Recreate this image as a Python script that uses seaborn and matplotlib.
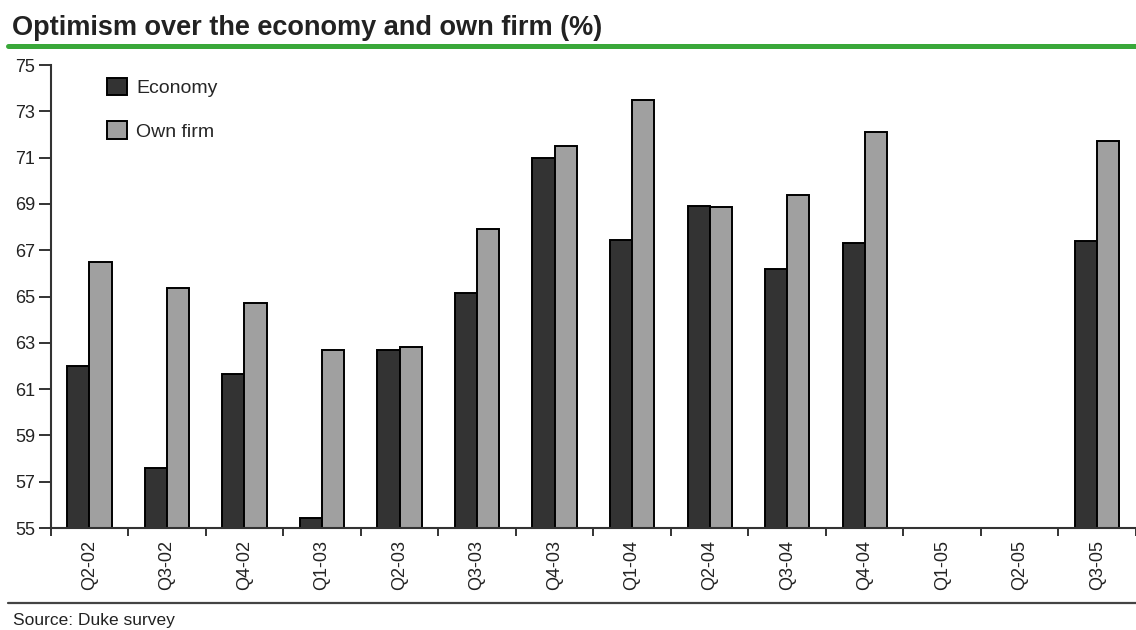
import numpy as np
import pandas as pd
import matplotlib
matplotlib.use("Agg")
import matplotlib.pyplot as plt
from matplotlib.patches import Patch
from matplotlib.lines import Line2D
import seaborn as sns

# Survey quarters and optimism readings (%); Q1-05 and Q2-05 have no data
quarters = ["Q2-02", "Q3-02", "Q4-02", "Q1-03", "Q2-03", "Q3-03", "Q4-03",
            "Q1-04", "Q2-04", "Q3-04", "Q4-04", "Q1-05", "Q2-05", "Q3-05"]
economy = [62.0, 57.6, 61.65, 55.45, 62.7, 65.15, 71.0,
           67.45, 68.9, 66.2, 67.3, np.nan, np.nan, 67.4]
own_firm = [66.5, 65.35, 64.7, 62.7, 62.8, 67.9, 71.5,
            73.5, 68.85, 69.4, 72.1, np.nan, np.nan, 71.7]
series_names = ["Economy", "Own firm"]
y_ticks = list(range(55, 76, 2))

title_text = "Optimism over the economy and own firm (%)"
source_text = "Source: Duke survey"

colors = {"Economy": "#333333", "Own firm": "#a0a0a0"}

df = pd.DataFrame({
    "quarter": quarters * 2,
    "value": economy + own_firm,
    "series": [series_names[0]] * len(quarters) + [series_names[1]] * len(quarters),
})

sns.set_theme(style="white")
plt.rcParams["font.family"] = ["Liberation Sans", "DejaVu Sans"]

fig = plt.figure(figsize=(11.36, 6.30), dpi=100)
ax = fig.add_axes([0.0446, 0.1619, 0.9554, 0.7349])

sns.barplot(data=df, x="quarter", y="value", hue="series", order=quarters,
            hue_order=series_names, palette=colors, width=0.57, gap=0,
            edgecolor="black", linewidth=1.4, saturation=1, errorbar=None,
            ax=ax, legend=False)

ax.set_xlim(-0.5, len(quarters) - 0.5)
ax.set_ylim(55, 75)
ax.set_yticks(y_ticks)
ax.set_yticklabels([str(t) for t in y_ticks])
ax.set_xlabel("")
ax.set_ylabel("")

for side in ["top", "right"]:
    ax.spines[side].set_visible(False)
for side in ["left", "bottom"]:
    ax.spines[side].set_color("#333333")
    ax.spines[side].set_linewidth(1.5)

ax.tick_params(axis="y", direction="out", length=8.5, width=1.4, color="#333333",
               labelsize=13, labelcolor="#222222", pad=2.5, left=True)
# category labels centred, tick marks drawn between categories
ax.tick_params(axis="x", which="major", length=0, pad=8.5, labelsize=13,
               labelcolor="#222222", labelrotation=90)
ax.set_xticks(np.arange(-0.5, len(quarters), 1.0), minor=True)
ax.tick_params(axis="x", which="minor", direction="out", length=6, width=1.4,
               color="#333333", bottom=True)

handles = [Patch(facecolor=colors[n], edgecolor="black", linewidth=1.4, label=n)
           for n in series_names]
ax.legend(handles=handles, loc="upper left", bbox_to_anchor=(0.052, 0.973),
          frameon=False, fontsize=14, handlelength=1.0, handleheight=1.0,
          handletextpad=0.5, labelspacing=1.25, borderpad=0, borderaxespad=0)

fig.text(12 / 1136, 1 - 35 / 630, title_text, fontsize=19.5, fontweight="bold",
         color="#222222", va="baseline", ha="left")
fig.add_artist(Line2D([0.007, 1.0], [1 - 45.5 / 630] * 2, color="#3aa83a",
                      linewidth=3.6, transform=fig.transFigure))
fig.add_artist(Line2D([0.007, 1.0], [1 - 603 / 630] * 2, color="#444444",
                      linewidth=1.6, transform=fig.transFigure))
fig.text(13 / 1136, 1 - 625 / 630, source_text, fontsize=12.5, color="#222222",
         va="baseline", ha="left")

fig.savefig("out.png", dpi=100, facecolor="white")
